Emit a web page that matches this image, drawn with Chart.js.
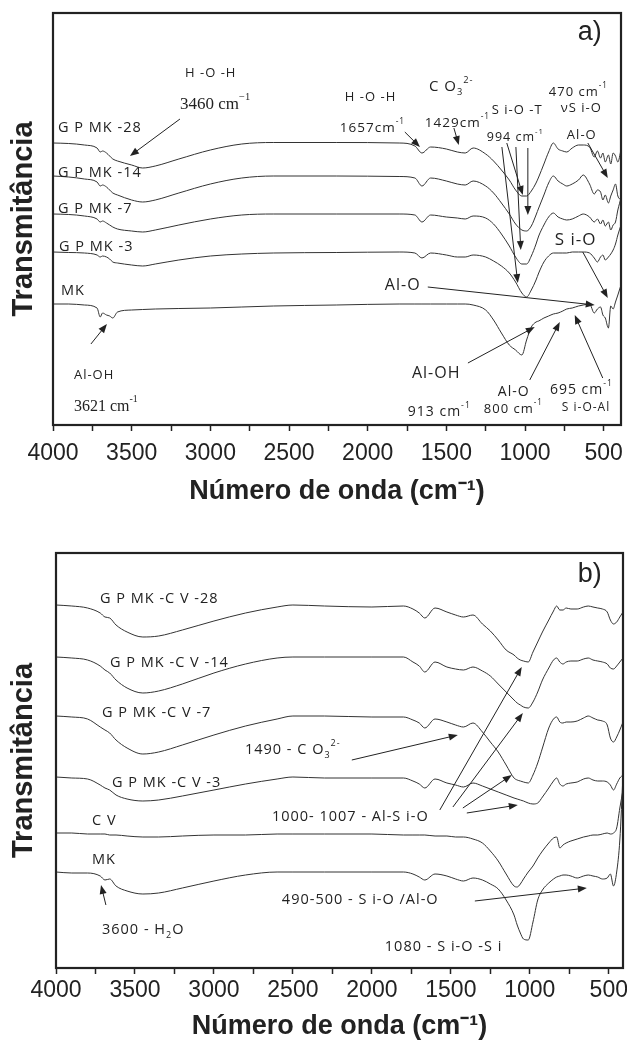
<!DOCTYPE html>
<html>
<head>
<meta charset="utf-8">
<script src="https://cdn.jsdelivr.net/npm/chart.js@4"></script>
<style>
  body { margin: 0; background: #fff; }
  canvas { display: block; }
</style>
</head>
<body>
<canvas id="chartA" width="627" height="520"></canvas>
<canvas id="chartB" width="627" height="523"></canvas>
<script>
// ---- data (transmittance in arbitrary units) ----
const xTicks = [4000, 3500, 3000, 2500, 2000, 1500, 1000, 500];

// panel a)
const wavenumberA = [4000, 3900, 3800, 3720, 3700, 3685, 3660, 3640, 3620, 3590,
  3500, 3430, 3350, 3200, 3000, 2800, 2600, 2200, 1800, 1700,
  1655, 1600, 1500, 1430, 1380, 1330, 1250, 1200, 1150, 1100,
  1060, 1020, 990, 960, 930, 913, 880, 850, 820, 790,
  760, 735, 700, 660, 630, 590, 560, 540, 520, 505,
  490, 470, 455, 440, 425, 410, 390];
const gpmk28 = [282, 281.5, 280, 277, 273, 274, 272, 269, 266, 264,
  260, 257, 259, 266, 275, 281, 282.5, 282.5, 282, 279,
  272, 278, 276, 273, 272, 277, 271, 264, 255, 245,
  235, 229, 229, 234, 242, 248, 261, 273, 282, 276,
  274, 273, 277, 280, 280, 278, 268, 274, 267, 272,
  263, 270, 261, 272, 269, 263, 275];
const gpmk14 = [249, 248, 246, 243, 239, 240, 238, 235, 232, 230,
  225, 223, 225, 232, 241, 247, 249, 249, 248.5, 247,
  239, 247, 244, 241, 240, 244, 239, 232, 222, 211,
  201, 195, 194, 199, 210, 217, 230, 242, 249, 244,
  241, 239, 241, 245, 250, 241, 231, 235, 233, 225,
  230, 222, 229, 235, 241, 229, 225];
const gpmk7 = [211, 210.5, 209, 206, 203, 204, 202, 200, 198, 196,
  194, 193, 195, 200, 206, 210, 211, 211, 211, 210,
  203, 210, 208, 207, 206, 209, 207, 201, 191, 179,
  168, 161, 161, 169, 181, 189, 200, 208, 212, 208,
  206, 205, 206, 209, 211, 208, 203, 206, 201, 205,
  199, 203, 195, 200, 203, 215, 227];
const gpmk3 = [173, 172.5, 172, 170, 168, 169, 168, 166, 163, 162,
  160, 159, 161, 165, 169, 171, 172, 172.5, 173, 172,
  167, 172, 170, 168, 168, 170, 168, 164, 159, 152,
  143, 132, 128, 135, 145, 152, 163, 169, 172, 172,
  172, 172, 173, 173, 173, 172, 167, 163, 168, 170,
  165, 168, 171, 175, 181, 190, 200];
const mkA = [121, 121, 120, 117, 108, 112, 110, 109, 107, 113,
  115, 115.5, 116, 116.5, 117, 118, 119, 120, 121, 121,
  121, 121, 121, 121, 121, 120, 115, 105, 92, 80,
  75, 70, 85, 98, 103, 104, 107, 109, 111, 112,
  114, 116, 117, 119, 120, 121, 112, 116, 118, 110,
  107, 97, 119, 116, 123, 130, 140];

// panel b)
const wavenumberB = [4000, 3900, 3800, 3720, 3690, 3660, 3620, 3550, 3450, 3350,
  3200, 3000, 2800, 2600, 2500, 2300, 2000, 1800, 1740, 1700,
  1665, 1600, 1525, 1470, 1420, 1360, 1300, 1250, 1200, 1150,
  1100, 1080, 1060, 1040, 1010, 980, 950, 920, 880, 850,
  830, 810, 790, 770, 740, 700, 660, 630, 600, 570,
  540, 510, 490, 470, 450, 430, 410];
const gpmkcv28 = [363, 362, 360, 355, 351, 350, 343, 336, 331, 332,
  338, 347, 355, 361, 363, 362, 361, 362, 359, 355,
  350, 360, 356, 353, 351, 353, 344, 337, 328, 318,
  313, 310, 308, 307, 306, 316, 326, 336, 348, 357,
  362, 358, 358, 360, 359, 359, 361, 362, 361, 360,
  359, 356, 348, 344, 346, 351, 356];
const gpmkcv14 = [311, 310, 308, 302, 298, 295, 288, 280, 275, 277,
  284, 295, 304, 310, 311, 311, 311, 311, 306, 302,
  296, 306, 301, 299, 298, 301, 297, 292, 284, 276,
  268, 265, 263, 261, 260, 266, 276, 288, 300, 308,
  310, 306, 304, 306, 307, 307, 309, 310, 308, 307,
  306, 304, 300, 299, 302, 306, 310];
const gpmkcv7 = [252, 251, 249, 241, 238, 235, 228, 220, 214, 216,
  223, 233, 242, 249, 252, 252, 251, 251, 248, 245,
  240, 249, 246, 243, 241, 245, 236, 226, 216, 203,
  190, 188, 187, 186, 185, 193, 205, 220, 240, 249,
  251, 246, 245, 246, 246, 247, 250, 252, 250, 248,
  247, 243, 230, 226, 231, 238, 246];
const gpmkcv3 = [191, 190, 189, 183, 180, 178, 173, 169, 167, 168,
  172, 178, 184, 189, 191, 190, 190, 190, 187, 184,
  180, 189, 185, 183, 181, 185, 182, 179, 176, 173,
  170, 169, 168, 167, 165, 164, 165, 171, 180, 187,
  190, 184, 182, 184, 185, 186, 189, 190, 188, 187,
  187, 186, 183, 178, 184, 190, 193];
const cv = [135, 135, 134, 134, 134, 133, 133, 132, 131, 131,
  132, 133, 133, 134, 134, 134, 134, 133, 133, 133,
  133, 132, 132, 131, 131, 129, 125, 117, 107, 94,
  82, 81, 84, 89, 96, 102, 110, 117, 125, 130,
  131, 120, 123, 125, 127, 129, 131, 132, 133, 133,
  134, 135, 134, 135, 140, 160, 178];
const mkB = [96, 95, 95, 92, 88, 89, 82, 77, 74, 75,
  80, 87, 93, 96, 96, 96, 96, 96, 94, 91,
  88, 94, 92, 89, 87, 90, 88, 84, 79, 68,
  53, 43, 35, 29, 28, 46, 68, 78, 85, 89,
  91, 92, 93, 93, 92, 90, 92, 93, 92, 91,
  89, 90, 94, 82, 96, 128, 193];

// ---- annotations, placed in (wavenumber, transmittance) ----
const notesA = [
  { at: [3968, 297], parts: [['G P MK -28']], size: 14.5 },
  { at: [3968, 252], parts: [['G P MK -14']], size: 14.5 },
  { at: [3968, 216], parts: [['G P MK -7']], size: 14.5 },
  { at: [3962, 178], parts: [['G P MK -3']], size: 14.5 },
  { at: [3949, 134], parts: [['MK']], size: 14.5 },
  { at: [3161, 352], parts: [['H -O -H']], size: 13 },
  { at: [3193, 320], parts: [['3460 cm'], ['−1', 'sup']], size: 17, serif: true },
  { at: [3867, 50], parts: [['Al-OH']], size: 13 },
  { at: [3867, 18], parts: [['3621 cm'], ['-1', 'sup']], size: 16, serif: true },
  { at: [665, 392], parts: [['a)']], size: 27, arial: true },
  { at: [2145, 328], parts: [['H -O -H']], size: 13 },
  { at: [2177, 297], parts: [['1657cm'], ['-1', 'sup']], size: 13.5 },
  { at: [1611, 338], parts: [['C O'], ['3', 'sub'], ['2-', 'sup']], size: 15 },
  { at: [1637, 302], parts: [['1429cm'], ['-1', 'sup']], size: 13.5 },
  { at: [1211, 315], parts: [['S i-O -T']], size: 13 },
  { at: [1243, 288], parts: [['994 cm'], ['-1', 'sup']], size: 12.5 },
  { at: [849, 333], parts: [['470 cm'], ['-1', 'sup']], size: 13 },
  { at: [773, 317], parts: [['νS i-O']], size: 13 },
  { at: [734, 290], parts: [['Al-O']], size: 13 },
  { at: [811, 185], parts: [['S i-O']], size: 17 },
  { at: [1891, 140], parts: [['Al-O']], size: 16 },
  { at: [1719, 52], parts: [['Al-OH']], size: 16 },
  { at: [1173, 33], parts: [['Al-O']], size: 14 },
  { at: [842, 35], parts: [['695 cm'], ['-1', 'sup']], size: 14 },
  { at: [766, 17], parts: [['S i-O-Al']], size: 12 },
  { at: [1745, 13], parts: [['913 cm'], ['-1', 'sup']], size: 14 },
  { at: [1262, 16], parts: [['800 cm'], ['-1', 'sup']], size: 13 }
];
const arrowsA = [
  [3193, 306, 3511, 269], [3759, 81, 3657, 101], [1764, 293, 1668, 278],
  [1452, 297, 1421, 280], [601, 282, 474, 247], [1116, 282, 1014, 230],
  [982, 277, 982, 210], [1058, 278, 1027, 175], [1147, 278, 1046, 142],
  [633, 173, 474, 127], [1618, 138, 557, 120], [1363, 62, 938, 98],
  [970, 45, 779, 103], [506, 47, 684, 110]
];
const notesB = [
  { at: [696, 393], parts: [['b)']], size: 27, arial: true },
  { at: [3722, 369], parts: [['G P MK -C V -28']], size: 14.5 },
  { at: [3658, 305], parts: [['G P MK -C V -14']], size: 14.5 },
  { at: [3709, 255], parts: [['G P MK -C V -7']], size: 14.5 },
  { at: [3646, 185], parts: [['G P MK -C V -3']], size: 14.5 },
  { at: [3772, 147], parts: [['C V']], size: 14.5 },
  { at: [3772, 108], parts: [['MK']], size: 14.5 },
  { at: [3709, 38], parts: [['3600 - H'], ['2', 'sub'], ['O']], size: 14.5 },
  { at: [2804, 218], parts: [['1490 - C O'], ['3', 'sub'], ['2-', 'sup']], size: 14.5 },
  { at: [2633, 151], parts: [['1000- 1007 - Al-S i-O']], size: 14.5 },
  { at: [2570, 68], parts: [['490-500 - S i-O /Al-O']], size: 14.5 },
  { at: [1918, 21], parts: [['1080 - S i-O -S i']], size: 14.5 }
];
const arrowsB = [
  [3684, 63, 3715, 83], [2127, 208, 1456, 233], [1570, 158, 1051, 301],
  [1487, 161, 1044, 255], [1424, 160, 1114, 193], [1399, 155, 1076, 163],
  [1348, 67, 639, 80]
];

const ink = '#222';
const sans = '"Liberation Sans", Arial, sans-serif';

function drawNote(ctx, x, y, note) {
  const fam = note.serif ? '"Liberation Serif", serif' : note.arial ? sans : '"Open Sans", sans-serif';
  ctx.letterSpacing = (note.serif || note.arial) ? '0px' : '1px';
  let cx = x;
  for (const [txt, kind] of note.parts) {
    const s = kind ? note.size * 0.62 : note.size;
    ctx.font = s + 'px ' + fam;
    const dy = kind === 'sup' ? -note.size * 0.45 : kind === 'sub' ? note.size * 0.35 : 0;
    ctx.fillText(txt, cx, y + dy);
    cx += ctx.measureText(txt).width;
  }
}

function drawArrow(ctx, x1, y1, x2, y2) {
  const a = Math.atan2(y2 - y1, x2 - x1);
  const len = 9, half = 3.5;
  ctx.beginPath();
  ctx.moveTo(x1, y1);
  ctx.lineTo(x2 - Math.cos(a) * len * 0.8, y2 - Math.sin(a) * len * 0.8);
  ctx.stroke();
  ctx.beginPath();
  ctx.moveTo(x2, y2);
  ctx.lineTo(x2 - Math.cos(a) * len + Math.sin(a) * half, y2 - Math.sin(a) * len - Math.cos(a) * half);
  ctx.lineTo(x2 - Math.cos(a) * len - Math.sin(a) * half, y2 - Math.sin(a) * len + Math.cos(a) * half);
  ctx.closePath();
  ctx.fill();
}

// frame + labels + arrows
const annotate = {
  id: 'annotate',
  afterDraw(chart, args, opts) {
    const { ctx, chartArea: a, scales: { x, y } } = chart;
    ctx.save();
    ctx.strokeStyle = ink;
    ctx.fillStyle = ink;
    ctx.lineWidth = 1;
    for (const [w1, t1, w2, t2] of opts.arrows) {
      drawArrow(ctx, x.getPixelForValue(w1), y.getPixelForValue(t1),
        x.getPixelForValue(w2), y.getPixelForValue(t2));
    }
    ctx.textAlign = 'left';
    ctx.textBaseline = 'middle';
    for (const n of opts.notes) {
      drawNote(ctx, x.getPixelForValue(n.at[0]), y.getPixelForValue(n.at[1]), n);
    }
    ctx.letterSpacing = '0px';
    ctx.lineWidth = 2.2;
    ctx.strokeRect(a.left, a.top, a.right - a.left, a.bottom - a.top);
    ctx.restore();
  }
};

function spectra(id, wn, series, o) {
  return new Chart(document.getElementById(id), {
    type: 'line',
    data: {
      datasets: series.map(s => ({
        data: wn.map((w, i) => ({ x: w, y: s[i] })),
        borderColor: '#333',
        borderWidth: 1,
        pointRadius: 0,
        cubicInterpolationMode: 'monotone',
        fill: false
      }))
    },
    options: {
      responsive: false,
      animation: false,
      layout: { padding: { top: o.top, right: o.right, left: 0, bottom: 0 } },
      plugins: {
        legend: { display: false },
        tooltip: { enabled: false },
        annotate: { notes: o.notes, arrows: o.arrows }
      },
      scales: {
        x: {
          type: 'linear',
          reverse: true,
          min: o.xMin,
          max: 4000,
          afterFit: s => { s.height = o.xHeight; s.paddingLeft = 0; s.paddingRight = 0; },
          afterBuildTicks: s => { s.ticks = s.ticks.filter(t => t.value % 250 === 0); },
          ticks: {
            stepSize: 250, includeBounds: false, autoSkip: false, maxRotation: 0, padding: o.tickPad,
            color: ink, font: { family: sans, size: 23 },
            callback: v => xTicks.includes(v) ? String(v) : ''
          },
          grid: { drawOnChartArea: false, tickLength: 6, tickColor: ink, tickWidth: 1.5 },
          border: { display: false },
          title: {
            display: true, text: 'Número de onda (cm⁻¹)', color: ink,
            font: { family: sans, size: 27, weight: 'bold' },
            padding: { top: 0, bottom: o.titlePad }
          }
        },
        y: {
          min: 0,
          max: o.yMax,
          afterFit: s => { s.width = o.yWidth; },
          ticks: { display: false },
          grid: { display: false },
          border: { display: false },
          title: {
            display: true, text: 'Transmitância', color: ink,
            font: { family: sans, size: 29, weight: 'bold' },
            padding: { top: 7, bottom: 0 }
          }
        }
      }
    },
    plugins: [annotate]
  });
}

spectra('chartA', wavenumberA, [gpmk28, gpmk14, gpmk7, gpmk3, mkA], {
  top: 13, right: 6, xMin: 390, yMax: 412, xHeight: 95, yWidth: 53,
  tickPad: 9, titlePad: 12, notes: notesA, arrows: arrowsA
});
spectra('chartB', wavenumberB, [gpmkcv28, gpmkcv14, gpmkcv7, gpmkcv3, cv, mkB], {
  top: 33, right: 4, xMin: 410, yMax: 415, xHeight: 75, yWidth: 56,
  tickPad: 3, titlePad: 0, notes: notesB, arrows: arrowsB
});
</script>
</body>
</html>
